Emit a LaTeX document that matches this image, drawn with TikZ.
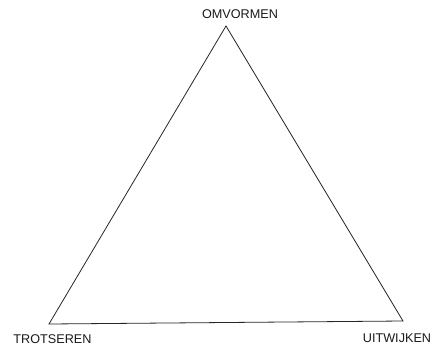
\documentclass[tikz,border=0pt]{standalone}
\usepackage{fontspec}
\setmainfont{Liberation Sans}
\begin{document}
\begin{tikzpicture}[x=1bp,y=1bp,
  edge/.style={draw=black!85,line width=0.8bp},
  lbl/.style={font=\fontsize{12.7}{14}\selectfont,text=black!90,inner sep=0pt,anchor=base}]
\useasboundingbox (0,0) rectangle (434,348);
\coordinate (top) at (226,322);
\coordinate (left) at (49,24);
\coordinate (right) at (403,27);
\draw[edge] (top) -- (left) -- (right) -- cycle;
\node[lbl] (om) at (240,330) {OMVORMEN};
\node[lbl] (tr) at (52.5,5) {TROTSEREN};
\node[lbl] (ui) at (397,6) {UITWIJKEN};
\end{tikzpicture}
\end{document}
